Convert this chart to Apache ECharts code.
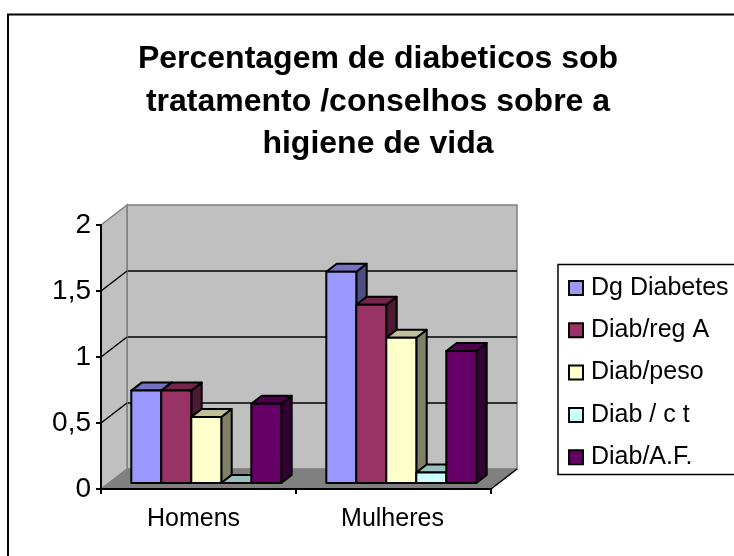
<!DOCTYPE html>
<html><head><meta charset="utf-8">
<script src="https://cdn.jsdelivr.net/npm/echarts@6/dist/echarts.min.js"></script>
<style>html,body{margin:0;padding:0;background:#fff}#c{width:734px;height:556px}</style></head>
<body><div id="c"></div>
<script>
const categories = ['Homens', 'Mulheres'];
const seriesNames = ['Dg Diabetes', 'Diab/reg A', 'Diab/peso', 'Diab / c t', 'Diab/A.F.'];
const dgDiabetes = [0.7, 1.6];
const diabRegA = [0.7, 1.35];
const diabPeso = [0.5, 1.1];
const diabCt = [0, 0.08];
const diabAF = [0.6, 1];
const yTicks = [0, 0.5, 1, 1.5, 2];
const values = [dgDiabetes, diabRegA, diabPeso, diabCt, diabAF];
const front = ['#9999ff', '#993366', '#ffffcc', '#ccffff', '#660066'];
const topC = ['#7373bf', '#732649', '#bfbf99', '#99bfbf', '#4d004d'];
const sideC = ['#4d4d80', '#4d1a33', '#808066', '#668080', '#330033'];

const DX = 26, DY = -20;            // wall depth
const BX = 10.4, BY = -8;           // bar depth
const OX = 7.8, OY = -6;            // bar offset from front plane
const BAR = 30;                     // bar width

const barSeries = seriesNames.map((name, s) => ({
  name, type: 'custom', xAxisIndex: 0, yAxisIndex: 0, z: 5,
  itemStyle: { color: front[s], borderColor: '#000', borderWidth: 2 },
  data: categories.map((c, i) => [i, values[s][i]]),
  renderItem(params, api) {
    const base = api.coord([api.value(0), 0]);
    const top = api.coord([api.value(0), api.value(1)]);
    const x0 = base[0] + OX - 2.5 * BAR + s * BAR, x1 = x0 + BAR;
    const yb = base[1] + OY, yt = top[1] + OY;
    const st = { stroke: '#000', lineWidth: 2, lineJoin: 'round' };
    return { type: 'group', children: [
      { type: 'polygon', shape: { points: [[x1, yt], [x1 + BX, yt + BY], [x1 + BX, yb + BY], [x1, yb]] }, style: { ...st, fill: sideC[s] } },
      { type: 'polygon', shape: { points: [[x0, yt], [x0 + BX, yt + BY], [x1 + BX, yt + BY], [x1, yt]] }, style: { ...st, fill: topC[s] } },
      { type: 'rect', shape: { x: x0, y: yt, width: BAR, height: yb - yt }, style: { ...st, fill: front[s] } }
    ] };
  }
}));

const wallSeries = {
  type: 'custom', xAxisIndex: 0, yAxisIndex: 0, z: 2, silent: true, legendHoverLink: false,
  data: [[0, 0]],
  renderItem(params, api) {
    const cs = params.coordSys;
    const l = cs.x, r = cs.x + cs.width;
    const y0 = api.coord([0, 0])[1], y2 = api.coord([0, 2])[1];
    const kids = [
      { type: 'polygon', shape: { points: [[l, y0], [l + DX, y0 + DY], [l + DX, y2 + DY], [l, y2]] }, style: { fill: '#c0c0c0', stroke: '#808080', lineWidth: 1.5 } },
      { type: 'polygon', shape: { points: [[l, y0], [l + DX, y0 + DY], [r + DX, y0 + DY], [r, y0]] }, style: { fill: '#808080', stroke: '#808080', lineWidth: 1 } }
    ];
    yTicks.slice(1, -1).forEach(v => {
      const y = api.coord([0, v])[1];
      kids.push({ type: 'line', shape: { x1: l, y1: y, x2: l + DX, y2: y + DY }, style: { stroke: '#000', lineWidth: 1.5 } });
    });
    kids.push({ type: 'line', shape: { x1: r, y1: y0, x2: r + DX, y2: y0 + DY }, style: { stroke: '#000', lineWidth: 1.5 } });
    return { type: 'group', children: kids };
  }
};

const chart = echarts.init(document.getElementById('c'), null, { renderer: 'canvas' });
const FF = '"Liberation Sans", Arial, sans-serif';
const xLabel = { fontFamily: FF, fontSize: 25, color: '#000' };
chart.setOption({
  animation: false,
  backgroundColor: '#fff',
  textStyle: { fontFamily: FF, color: '#000' },
  title: {
    text: 'Percentagem de diabeticos sob\ntratamento /conselhos sobre a\nhigiene de vida',
    left: 378, top: 38, textAlign: 'center', padding: 0,
    textStyle: { fontFamily: FF, fontSize: 32, fontWeight: 'bold', color: '#000', lineHeight: 42.5 }
  },
  legend: {
    data: seriesNames, orient: 'vertical', left: 568, top: 274, padding: 0,
    itemWidth: 14, itemHeight: 14, itemGap: 14.3, itemStyle: { borderColor: '#000', borderWidth: 2 }, icon: 'rect', selectedMode: false,
    textStyle: { fontFamily: FF, fontSize: 25, color: '#000', lineHeight: 28, padding: [0, 0, 0, 3] }
  },
  grid: [
    { left: 101, top: 225, width: 390, height: 264, show: false },
    { left: 127, top: 205, width: 390, height: 264, show: true, backgroundColor: '#c0c0c0', borderColor: '#808080', borderWidth: 1.5, z: 0 }
  ],
  xAxis: [
    { type: 'category', gridIndex: 0, data: categories, z: 6,
      axisLine: { lineStyle: { color: '#000', width: 2 } },
      axisTick: { show: true, length: 5, alignWithLabel: false, lineStyle: { color: '#000', width: 2 } },
      axisLabel: { ...xLabel, margin: 18,
        formatter: (v, i) => (i === 0 ? '{a|' : '{b|') + v + '}',
        rich: { a: { ...xLabel, padding: [0, 10, 0, 0] }, b: { ...xLabel, padding: [0, 2, 0, 0] } } } },
    { type: 'category', gridIndex: 1, data: categories, show: false }
  ],
  yAxis: [
    { type: 'value', gridIndex: 0, min: 0, max: 2, interval: 0.5, z: 6,
      axisLine: { show: true, lineStyle: { color: '#000', width: 2 } },
      axisTick: { show: true, length: 5, lineStyle: { color: '#000', width: 2 } },
      splitLine: { show: false },
      axisLabel: { fontFamily: FF, fontSize: 28, color: '#000', margin: 10, formatter: v => String(v).replace('.', ',') } },
    { type: 'value', gridIndex: 1, min: 0, max: 2, interval: 0.5,
      axisLine: { show: false }, axisTick: { show: false }, axisLabel: { show: false },
      splitLine: { show: true, showMinLine: false, showMaxLine: false, lineStyle: { color: '#000', width: 1.5 } } }
  ],
  graphic: [
    { type: 'rect', z: -1, shape: { x: 8, y: 14.5, width: 760, height: 600 }, style: { fill: '#fff', stroke: '#000', lineWidth: 2 } },
    { type: 'rect', z: 1, shape: { x: 558, y: 264.5, width: 220, height: 210 }, style: { fill: '#fff', stroke: '#000', lineWidth: 1.5 } }
  ],
  series: [wallSeries, ...barSeries]
});
</script></body></html>
